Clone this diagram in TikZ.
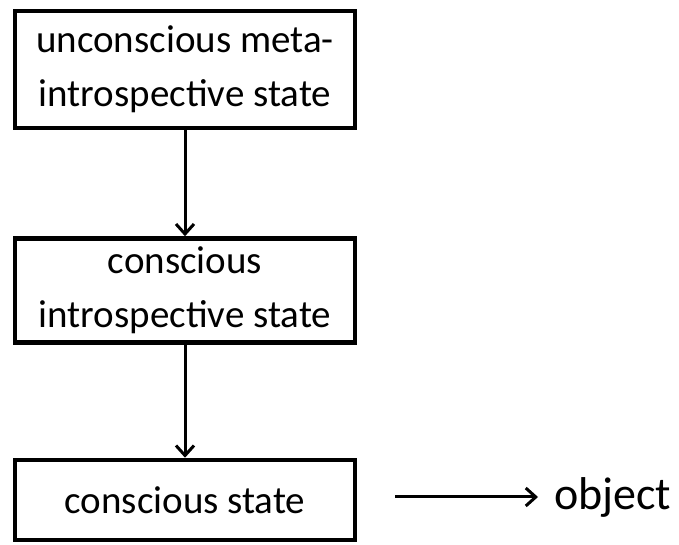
\documentclass[tikz,border=0pt]{standalone}
\usepackage{fontspec}
\setmainfont{Carlito}
\usetikzlibrary{arrows.meta}
\tikzset{>={Straight Barb[width=18pt,length=10pt]}}
\tikzset{statebox/.style={draw, line width=4.5pt, minimum width=340pt,
    inner sep=0pt, align=center, font=\fontsize{39}{54}\selectfont}}

\begin{document}
\begin{tikzpicture}[x=1pt,y=1pt]

  \newcommand\X{185};

  \useasboundingbox (0,0) rectangle (679,545); %% positioning

  \node[statebox, minimum height=117pt] (meta) at (\X, 475.5)
  {unconscious meta-\\introspective state};
  \node[statebox, minimum height=104pt] (intro) at (\X, 254.5)
  {conscious\\introspective state};
  \node[statebox, minimum height=80pt] (cons) at (\X, 45)
  {conscious state};

  \node[anchor=west, inner xsep=16pt, inner ysep=0pt,
  font=\fontsize{46}{50}\selectfont] (obj) at (538, 48) {object};
  \coordinate (out) at (395, 48);

  \draw[->, line width=3pt] (meta) -- (intro);
  \draw[->, line width=3pt] (intro) -- (cons);
  \draw[->, line width=3pt] (out) -- (obj);

\end{tikzpicture}
\end{document}
